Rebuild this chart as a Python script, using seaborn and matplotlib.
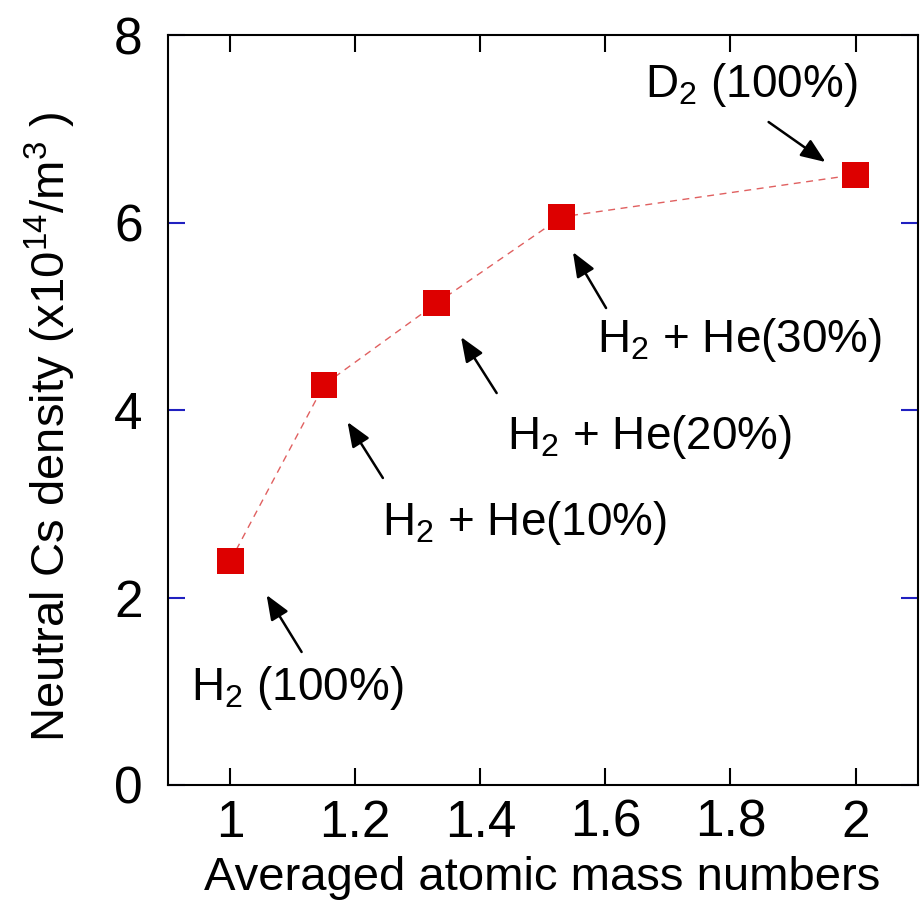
import matplotlib
matplotlib.use("Agg")
import matplotlib.pyplot as plt
import seaborn as sns
import pandas as pd

mass = [1.0, 1.15, 1.33, 1.53, 2.0]
density = [2.39, 4.27, 5.14, 6.06, 6.51]
labels = [r"H$_\mathregular{2}$ (100%)", r"H$_\mathregular{2}$ + He(10%)",
          r"H$_\mathregular{2}$ + He(20%)", r"H$_\mathregular{2}$ + He(30%)",
          r"D$_\mathregular{2}$ (100%)"]
text_pos = [(1.107, 1.035), (1.471, 2.795), (1.671, 3.712), (1.814, 4.747), (1.833, 7.467)]
arrow_tail = [(1.114, 1.419), (1.244, 3.275), (1.426, 4.181), (1.601, 5.088), (1.861, 7.072)]
arrow_head = [(1.058, 2.027), (1.1875, 3.872), (1.369, 4.779), (1.548, 5.685), (1.952, 6.645)]
xticks = [1, 1.2, 1.4, 1.6, 1.8, 2]
yticks = [0, 2, 4, 6, 8]

sns.set_style("ticks")
plt.rcParams['font.family'] = ['Liberation Sans', 'DejaVu Sans']
plt.rcParams['mathtext.fontset'] = 'custom'
plt.rcParams['mathtext.rm'] = 'Liberation Sans'
plt.rcParams['mathtext.it'] = 'Liberation Sans'
plt.rcParams['text.color'] = 'black'
plt.rcParams['axes.labelcolor'] = 'black'
plt.rcParams['xtick.labelcolor'] = 'black'
plt.rcParams['ytick.labelcolor'] = 'black'

df = pd.DataFrame({"mass": mass, "density": density})

fig = plt.figure(figsize=(9.22, 9.05), dpi=100)
ax = fig.add_axes([0.182, 0.1326, 0.8137, 0.8287])

sns.lineplot(data=df, x="mass", y="density", ax=ax, color="#e06060",
             linestyle=(0, (5, 4)), linewidth=1.0, zorder=2)
sns.scatterplot(data=df, x="mass", y="density", ax=ax, marker="s", s=19**2,
                color="#dd0000", edgecolor="none", zorder=3)

for lab, tp, tl, hd in zip(labels, text_pos, arrow_tail, arrow_head):
    ax.text(tp[0], tp[1], lab, ha="center", va="center", fontsize=33, color="black")
    ax.annotate("", xy=hd, xytext=tl,
                arrowprops=dict(arrowstyle="-|>,head_length=1.5,head_width=0.6",
                                color="black", lw=1.8, shrinkA=0, shrinkB=0))

ax.set_xlim(0.9, 2.1)
ax.set_ylim(0, 8)
ax.set_xticks(xticks)
ax.set_xticklabels(["1", "1.2", "1.4", "1.6", "1.8", "2"])
ax.set_yticks(yticks)
ax.set_yticklabels([str(v) for v in yticks])

ax.tick_params(axis="x", direction="in", length=12, width=1.5, color="black",
               top=True, labelsize=37, pad=10)
ax.tick_params(axis="y", direction="in", length=12, width=1.5, color="#2020c0",
               right=True, labelsize=37, pad=18)
for sp in ax.spines.values():
    sp.set_linewidth(1.5)
    sp.set_color("black")
    sp.set_visible(True)

ax.set_xlabel("Averaged atomic mass numbers", fontsize=34)
ax.set_ylabel(r"Neutral Cs density (x10$^{14}$/m$^{3}$ )", fontsize=34)
ax.xaxis.set_label_coords((542 - 168) / 750, -(856 - 785) / 750)
ax.yaxis.set_label_coords(-(168 - 78) / 750, (785 - 427) / 750)

fig.savefig("out.png", dpi=100)
